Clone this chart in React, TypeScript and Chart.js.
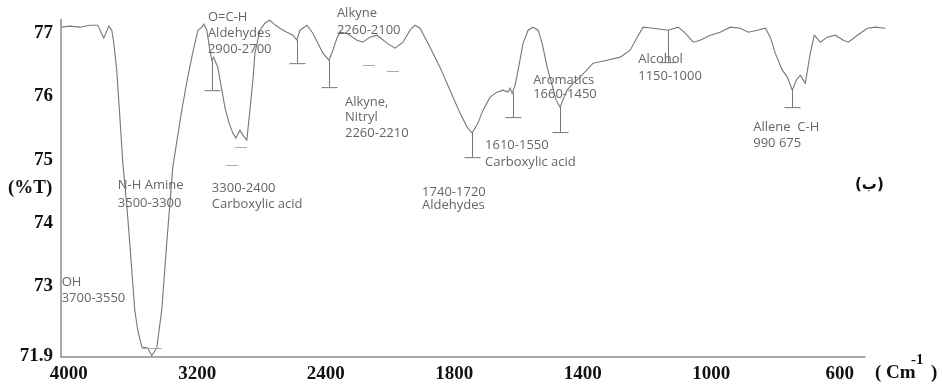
import { useEffect, useRef } from "react";
import { Chart, registerables } from "chart.js";

Chart.register(...registerables);

// x values are positions on the axis: tick i sits at position i
const tickLabels = ["4000", "3200", "2400", "1800", "1400", "1000", "600"];
const yTickValues = [71.9, 73, 74, 75, 76, 77];

const scanPosition = [
  -0.055, 0.008, 0.086, 0.164, 0.226, 0.273, 0.312, 0.335, 0.351, 0.374, 0.397, 0.421, 0.452, 0.475,
  0.514, 0.537, 0.569, 0.615, 0.646, 0.685, 0.724, 0.763, 0.81, 0.849, 0.88, 0.919, 0.958, 1.005,
  1.036, 1.051, 1.075, 1.098, 1.114, 1.129, 1.137, 1.16, 1.192, 1.215, 1.246, 1.277, 1.301, 1.332,
  1.355, 1.386, 1.41, 1.433, 1.449, 1.488, 1.526, 1.565, 1.589, 1.643, 1.698, 1.745, 1.776, 1.799,
  1.854, 1.9, 1.939, 1.978, 2.025, 2.056, 2.087, 2.111, 2.165, 2.243, 2.29, 2.344, 2.399, 2.477,
  2.539, 2.601, 2.656, 2.695, 2.734, 2.812, 2.889, 2.967, 3.045, 3.1, 3.139, 3.185, 3.224, 3.279,
  3.333, 3.38, 3.419, 3.435, 3.45, 3.474, 3.497, 3.536, 3.575, 3.614, 3.653, 3.684, 3.723, 3.762,
  3.793, 3.824, 3.855, 3.879, 3.925, 3.98, 4.081, 4.19, 4.291, 4.369, 4.424, 4.47, 4.548, 4.665,
  4.743, 4.798, 4.86, 4.914, 4.992, 5.07, 5.148, 5.226, 5.288, 5.358, 5.421, 5.46, 5.498, 5.553,
  5.592, 5.631, 5.662, 5.693, 5.732, 5.771, 5.802, 5.849, 5.903, 5.966, 6.028, 6.067, 6.137, 6.215,
  6.277, 6.355,
];

const transmittance = [
  77.095, 77.111, 77.095, 77.126, 77.126, 76.921, 77.111, 77.047, 76.842, 76.415, 75.704, 74.946, 74.282, 73.681,
  72.623, 72.307, 72.039, 72.022, 71.9, 72.022, 72.623, 73.681, 74.882, 75.388, 75.783, 76.226, 76.621, 77.047,
  77.095, 77.142, 77.047, 76.731, 76.573, 76.621, 76.573, 76.463, 76.099, 75.831, 75.594, 75.42, 75.341, 75.467,
  75.388, 75.309, 75.783, 76.257, 76.684, 77.047, 77.158, 77.205, 77.158, 77.079, 77.016, 76.968, 76.889, 77.047,
  77.126, 77.0, 76.842, 76.684, 76.573, 76.731, 76.921, 77.016, 77.0, 76.889, 76.858, 76.937, 76.968, 76.842,
  76.763, 76.858, 77.047, 77.126, 77.079, 76.779, 76.463, 76.099, 75.736, 75.515, 75.42, 75.578, 75.783, 75.989,
  76.068, 76.099, 76.068, 76.131, 76.052, 76.178, 76.415, 76.842, 77.047, 77.095, 77.047, 76.842, 76.463, 76.178,
  75.941, 75.831, 75.989, 76.099, 76.21, 76.305, 76.526, 76.573, 76.621, 76.731, 76.937, 77.095, 77.079, 77.047,
  77.095, 77.0, 76.858, 76.889, 76.968, 77.016, 77.095, 77.079, 77.016, 77.047, 77.079, 76.937, 76.684, 76.415,
  76.305, 76.099, 76.257, 76.336, 76.21, 76.684, 76.968, 76.858, 76.937, 76.968, 76.889, 76.858, 76.968, 77.079,
  77.095, 77.079,
];

// band annotations: text, axis position of left edge, %T of line centre
const noteTexts = [
  "O=C-H", "Aldehydes", "2900-2700",
  "Alkyne", "2260-2100",
  "Alkyne,", "Nitryl", "2260-2210",
  "1610-1550", "Carboxylic acid",
  "Aromatics", "1660-1450",
  "1740-1720", "Aldehydes",
  "Alcohol", "1150-1000",
  "Allene  C-H", "990 675",
  "N-H Amine", "3500-3300",
  "3300-2400", "Carboxylic acid",
  "OH", "3700-3550",
];
const notePosition = [
  1.083, 1.083, 1.083,
  2.087, 2.087,
  2.15, 2.15, 2.15,
  3.24, 3.24,
  3.614, 3.614,
  2.75, 2.75,
  4.432, 4.432,
  5.327, 5.327,
  0.382, 0.382,
  1.114, 1.114,
  -0.055, -0.055,
];
const noteLevel = [
  77.253, 77.0, 76.747,
  77.316, 77.047,
  75.91, 75.673, 75.42,
  75.23, 74.961,
  76.257, 76.036,
  74.487, 74.282,
  76.589, 76.32,
  75.515, 75.262,
  74.598, 74.313,
  74.551, 74.298,
  73.065, 72.812,
];

// peak marker drop lines
const markerPosition = [1.114, 1.776, 2.025, 3.139, 3.458, 3.824, 4.665, 5.631];
const markerTop = [76.573, 76.889, 76.573, 75.42, 76.068, 75.831, 77.047, 76.099];
const markerBottom = [76.099, 76.526, 76.147, 75.04, 75.673, 75.436, 76.542, 75.831];
// small peak tags without a drop line
const tagPosition = [1.34, 1.27, 2.336, 2.523, 0.646];
const tagLevel = [75.2, 74.914, 76.494, 76.399, 72.022];

const GREY = "#777777";

const overlay = {
  id: "overlay",
  afterDraw(chart: any) {
    const ctx = chart.ctx as CanvasRenderingContext2D;
    const xs = chart.scales.x;
    const ys = chart.scales.y;
    const area = chart.chartArea;
    ctx.save();

    // axes
    ctx.strokeStyle = "#8c8c8c";
    ctx.lineWidth = 1.5;
    ctx.beginPath();
    ctx.moveTo(area.left, area.top + 1);
    ctx.lineTo(area.left, area.bottom);
    ctx.lineTo(xs.getPixelForValue(6.2), area.bottom);
    ctx.stroke();

    // tick labels
    ctx.fillStyle = "#111";
    ctx.font = "bold 19px 'Liberation Serif'";
    ctx.textAlign = "right";
    ctx.textBaseline = "middle";
    yTickValues.forEach((v) => {
      ctx.fillText(String(v), area.left - 8, ys.getPixelForValue(v));
    });
    ctx.textAlign = "center";
    tickLabels.forEach((t, i) => {
      ctx.fillText(t, xs.getPixelForValue(i), area.bottom + 17);
    });
    ctx.textAlign = "left";
    ctx.fillText("(%T)", 8, ys.getPixelForValue(74.55));
    ctx.fillText("( Cm", 875, area.bottom + 16);
    ctx.fillText(")", 931, area.bottom + 16);
    ctx.font = "bold 15px 'Liberation Serif'";
    ctx.fillText("-1", 911, area.bottom + 3);
    ctx.font = "bold 15px 'DejaVu Sans'";
    ctx.fillText("(ب)", 855, ys.getPixelForValue(74.6));

    // annotation text
    ctx.fillStyle = "#666";
    ctx.font = "13px 'Open Sans'";
    noteTexts.forEach((t, i) => {
      ctx.fillText(t, xs.getPixelForValue(notePosition[i]), ys.getPixelForValue(noteLevel[i]));
    });

    // markers
    ctx.strokeStyle = "#777";
    ctx.lineWidth = 1;
    markerPosition.forEach((p, i) => {
      const x = Math.round(xs.getPixelForValue(p)) + 0.5;
      const y1 = ys.getPixelForValue(markerTop[i]);
      const y2 = ys.getPixelForValue(markerBottom[i]);
      ctx.beginPath();
      ctx.moveTo(x, y1);
      ctx.lineTo(x, y2);
      ctx.moveTo(x - 8, y2 + 0.5);
      ctx.lineTo(x + 8, y2 + 0.5);
      ctx.stroke();
    });
    ctx.strokeStyle = "#aaa";
    tagPosition.forEach((p, i) => {
      const x = xs.getPixelForValue(p);
      const y = Math.round(ys.getPixelForValue(tagLevel[i])) + 0.5;
      const w = i === 4 ? 10 : 6;
      ctx.beginPath();
      ctx.moveTo(x - w, y);
      ctx.lineTo(x + w, y);
      ctx.stroke();
    });
    ctx.restore();
  },
};

export default function App() {
  const ref = useRef<HTMLCanvasElement>(null);
  useEffect(() => {
    if (!ref.current) return;
    const chart = new Chart(ref.current, {
      type: "line",
      data: {
        datasets: [
          {
            data: scanPosition.map((x, i) => ({ x, y: transmittance[i] })),
            borderColor: GREY,
            borderWidth: 1.1,
            pointRadius: 0,
            tension: 0,
            fill: false,
            clip: false as any,
          },
        ],
      },
      options: {
        animation: false,
        responsive: false,
        maintainAspectRatio: false,
        layout: { padding: { left: 61, right: 56, top: 18, bottom: 30 } },
        plugins: { legend: { display: false }, tooltip: { enabled: false } },
        scales: {
          x: {
            type: "linear",
            min: -0.06,
            max: 6.36,
            grid: { display: false, drawTicks: false },
            border: { display: false },
            ticks: { display: false },
          },
          y: {
            type: "linear",
            min: 71.88,
            max: 77.24,
            grid: { display: false, drawTicks: false },
            border: { display: false },
            ticks: { display: false },
          },
        },
      },
      plugins: [overlay],
    });
    return () => chart.destroy();
  }, []);
  return (
    <div style={{ position: "fixed", left: 0, top: 0, width: 942, height: 387, background: "#fff" }}>
      <canvas ref={ref} width={942} height={387} style={{ width: 942, height: 387 }} />
    </div>
  );
}
